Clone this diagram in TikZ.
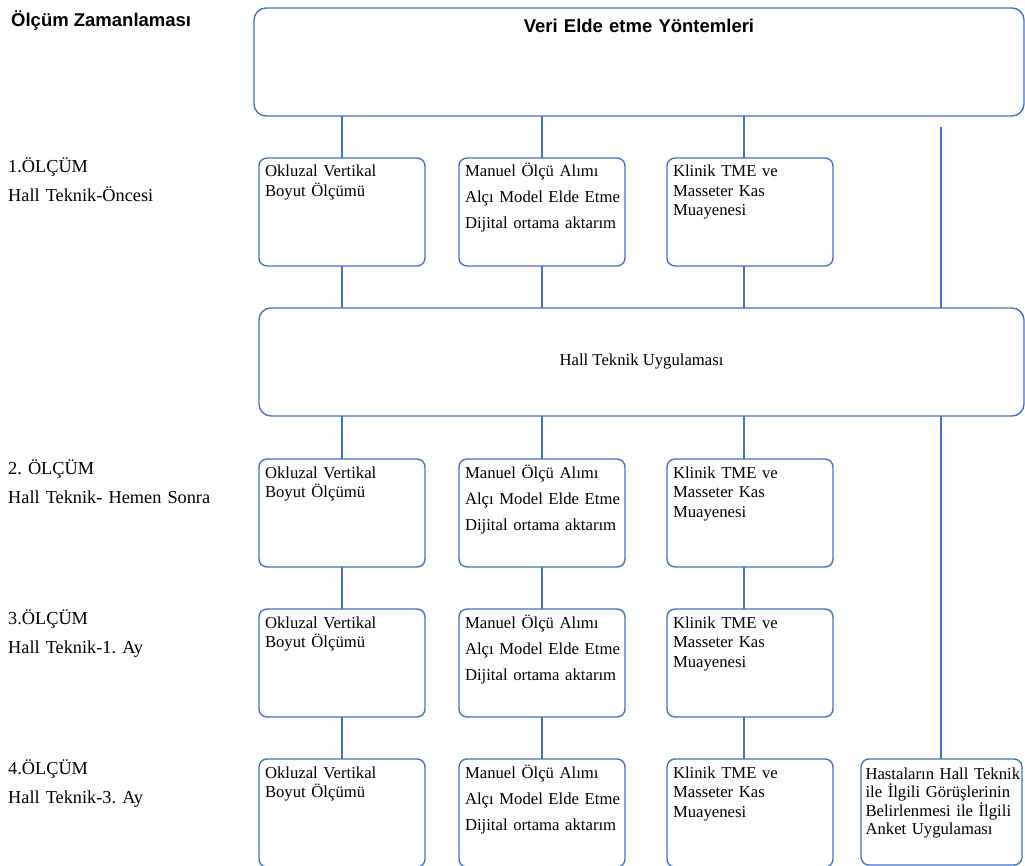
\documentclass[tikz,border=0pt]{standalone}
\usepackage{fontspec}
\setmainfont{Liberation Serif}
\newfontfamily\arialfont{Liberation Sans}
\usetikzlibrary{positioning}
\definecolor{boxblue}{HTML}{4472C4}
\frenchspacing

\begin{document}
\begin{tikzpicture}[x=1pt, y=-1pt,
  olcbox/.style={draw=boxblue, line width=1.4pt, rounded corners=8pt, outer sep=0pt,
    inner xsep=3pt, inner ysep=0pt, text width=160pt, align=left,
    text height=19pt, text depth=89pt, anchor=north west,
    execute at begin node={\leftskip=3pt},
    font=\fontsize{16.7}{19.5}\selectfont},
  wide/.style={olcbox, font=\fontsize{16.7}{26}\selectfont},
  bigbox/.style={draw=boxblue, line width=1.4pt, rounded corners=12pt, outer sep=0pt,
    anchor=north west, inner sep=0pt},
  zaman/.style={anchor=base west, inner sep=0pt, text width=240pt, align=left,
    font=\fontsize{18.3}{29}\selectfont},
  baslik/.style={font=\arialfont\bfseries\fontsize{18.5}{22}\selectfont},
  link/.style={draw=boxblue, line width=1.4pt}]
 \useasboundingbox (0,0) rectangle (1025,866);

 \node[baslik, anchor=base west, inner sep=0pt] (zt) at (11,27) {Ölçüm Zamanlaması};
 \node[bigbox, baslik, text width=770pt, align=center, text height=25pt, text depth=83pt]
   (veri) at (254,8) {Veri Elde etme Yöntemleri};
 \node[bigbox, minimum width=765pt, minimum height=108pt,
   font=\fontsize{16.7}{19.5}\selectfont] (hall) at (259,308) {Hall Teknik Uygulaması};

 % measurement rows
 \foreach \i/\y/\ad/\zm in {1/158/1.ÖLÇÜM/Hall Teknik-Öncesi,
     2/459/2. ÖLÇÜM/Hall Teknik- Hemen Sonra,
     3/609/3.ÖLÇÜM/Hall Teknik-1. Ay,
     4/759/4.ÖLÇÜM/Hall Teknik-3. Ay} {
   \node[zaman] (z\i) at (8,\y+15) {\ad\\\zm};
   \node[olcbox] (o\i) at (259,\y) {Okluzal Vertikal\\Boyut Ölçümü};
   \node[wide, right=34pt of o\i] (m\i) {Manuel Ölçü Alımı\\Alçı Model Elde Etme\\Dijital ortama aktarım};
   \node[olcbox, right=42pt of m\i] (k\i) {Klinik TME ve\\Masseter Kas\\Muayenesi};
 }
 \node[olcbox, inner xsep=1.5pt, text width=158pt, text height=20pt, text depth=86pt,
   font=\fontsize{16.7}{18.5}\selectfont] (anket) at (861,759)
   {Hastaların Hall Teknik\\ile İlgili Görüşlerinin\\Belirlenmesi ile İlgili\\Anket Uygulaması};

 \foreach \c/\dx in {o/0, m/0, k/-6} {
   \draw[link] ([xshift=\dx pt]\c1.north |- veri.south) -- ([xshift=\dx pt]\c1.north);
   \draw[link] ([xshift=\dx pt]\c1.south) -- ([xshift=\dx pt]\c1.south |- hall.north);
   \draw[link] ([xshift=\dx pt]\c2.north |- hall.south) -- ([xshift=\dx pt]\c2.north);
   \draw[link] ([xshift=\dx pt]\c2.south) -- ([xshift=\dx pt]\c3.north);
   \draw[link] ([xshift=\dx pt]\c3.south) -- ([xshift=\dx pt]\c4.north);
 }
 \coordinate (r) at (941,127);
 \draw[link] (r) -- (r |- hall.north);
 \draw[link] (r |- hall.south) -- (r |- anket.north);
\end{tikzpicture}
\end{document}
